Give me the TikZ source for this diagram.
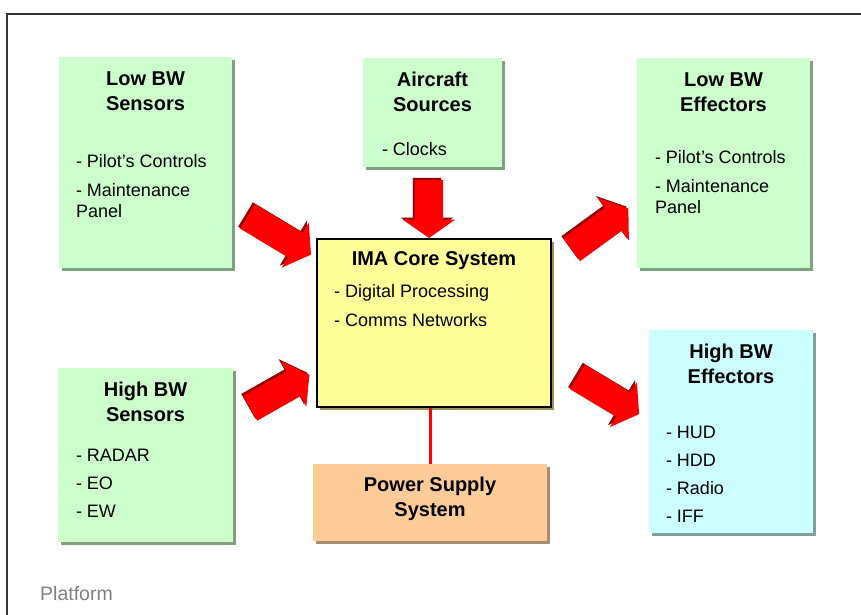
\documentclass[tikz,border=0pt]{standalone}
\usepackage{fontspec}
\setmainfont{Liberation Sans}
\usetikzlibrary{shapes,shadows,arrows,positioning}
\definecolor{lowgreen}{RGB}{204,255,204}
\definecolor{coreyellow}{RGB}{255,255,153}
\definecolor{highcyan}{RGB}{204,255,255}
\definecolor{powerpeach}{RGB}{255,204,153}
\definecolor{greenshade}{RGB}{128,160,128}
\definecolor{cyanshade}{RGB}{128,160,160}
\definecolor{yellowshade}{RGB}{150,150,90}
\definecolor{peachshade}{RGB}{170,140,110}
\definecolor{arrowshade}{RGB}{150,0,0}
\tikzstyle{box1}=[rectangle, fill=lowgreen, inner sep=0pt, drop shadow={shadow xshift=3pt,shadow yshift=-3pt,fill=greenshade,opacity=1}]
\tikzstyle{box2}=[rectangle, fill=highcyan, inner sep=0pt, drop shadow={shadow xshift=3pt,shadow yshift=-3pt,fill=cyanshade,opacity=1}]
\tikzstyle{box3}=[rectangle, fill=coreyellow, draw=black, line width=2pt, inner sep=0pt, drop shadow={shadow xshift=3pt,shadow yshift=-3pt,fill=yellowshade,opacity=1}]
\tikzstyle{box4}=[rectangle, fill=powerpeach, inner sep=0pt, drop shadow={shadow xshift=3pt,shadow yshift=-3pt,fill=peachshade,opacity=1}]
\tikzstyle{boxtitle}=[inner sep=0pt, align=center, font=\fontsize{20}{25}\selectfont\bfseries]
\tikzstyle{boxlist}=[inner sep=0pt, align=left, font=\fontsize{18}{21}\selectfont]
\tikzstyle{arrow1}=[single arrow, draw=none, fill=red, inner sep=14pt, single arrow head extend=12pt, single arrow tip angle=110, drop shadow={shadow xshift=-2pt,shadow yshift=2pt,fill=arrowshade,opacity=1}]
\tikzstyle{frame}=[draw=black!80, line width=2pt]
\tikzstyle{powerline}=[draw=red, line width=3pt]
\tikzstyle{platform}=[inner sep=0pt, text=black!50, font=\fontsize{19.5}{22}\selectfont]

\begin{document}
\begin{tikzpicture}[x=1pt,y=-1pt]
\useasboundingbox (0,0) rectangle (861,615);
\clip (0,0) rectangle (861,615);
%Frame
\draw[frame] (890,14) -- (7,14) -- (7,650);
\node[platform, anchor=base west] (plat) at (40,600){Platform};

%Top row
\node[box1, minimum width=173pt, minimum height=211pt] (lbs) at (145.5,162.5){};
\node[boxtitle, below=15pt of lbs.north] (lbs-t){Low BW\\Sensors};
\node[boxlist, below right=97pt and 17pt of lbs.north west] (lbs-l){- Pilot’s Controls\\[8pt]- Maintenance\\Panel};
\node[box1, minimum width=139pt, minimum height=109pt] (acs) at (432.5,112.5){};
\node[boxtitle, below=14.5pt of acs.north] (acs-t){Aircraft\\Sources};
\node[boxlist, below right=84pt and 19pt of acs.north west] (acs-l){- Clocks};
\node[box1, minimum width=173pt, minimum height=210pt] (lbe) at (723.5,163){};
\node[boxtitle, below=14.5pt of lbe.north] (lbe-t){Low BW\\Effectors};
\node[boxlist, below right=92pt and 18pt of lbe.north west] (lbe-l){- Pilot’s Controls\\[8pt]- Maintenance\\Panel};

%Core
\node[box3, minimum width=234pt, minimum height=168pt] (ima) at (434,323){};
\node[boxtitle, below=13.5pt of ima.north] (ima-t){IMA Core System};
\node[boxlist, below right=46pt and 18pt of ima.north west] (ima-l){- Digital Processing\\[8pt]- Comms Networks};

%Bottom row
\node[box1, minimum width=175pt, minimum height=174pt] (hbs) at (145.5,455){};
\node[boxtitle, below=14.5pt of hbs.north] (hbs-t){High BW\\Sensors};
\node[boxlist, below right=81pt and 18pt of hbs.north west] (hbs-l){- RADAR\\[7pt]- EO\\[7pt]- EW};
\node[box2, minimum width=164pt, minimum height=203pt] (hbe) at (731,431.5){};
\node[boxtitle, below=14pt of hbe.north] (hbe-t){High BW\\Effectors};
\node[boxlist, below right=96.5pt and 17pt of hbe.north west] (hbe-l){- HUD\\[7pt]- HDD\\[7pt]- Radio\\[7pt]- IFF};
\node[box4, minimum width=234pt, minimum height=77pt] (pss) at (430,502.5){};
\node[boxtitle, below=13.5pt of pss.north] (pss-t){Power Supply\\System};
\draw[powerline] (pss.north) -- (pss.north |- ima.south);

%Arrows
\node[arrow1, minimum height=74pt, rotate=-31](ar1) at (275,233){};
\node[arrow1, minimum height=70pt, rotate=36](ar2) at (596,232){};
\node[arrow1, minimum height=68pt, rotate=29.5](ar3) at (275.5,394){};
\node[arrow1, minimum height=72pt, rotate=-31](ar4) at (604,393){};
\node[arrow1, minimum height=58pt, rotate=-90](ar5) at (429,204){};
\end{tikzpicture}
\end{document}
